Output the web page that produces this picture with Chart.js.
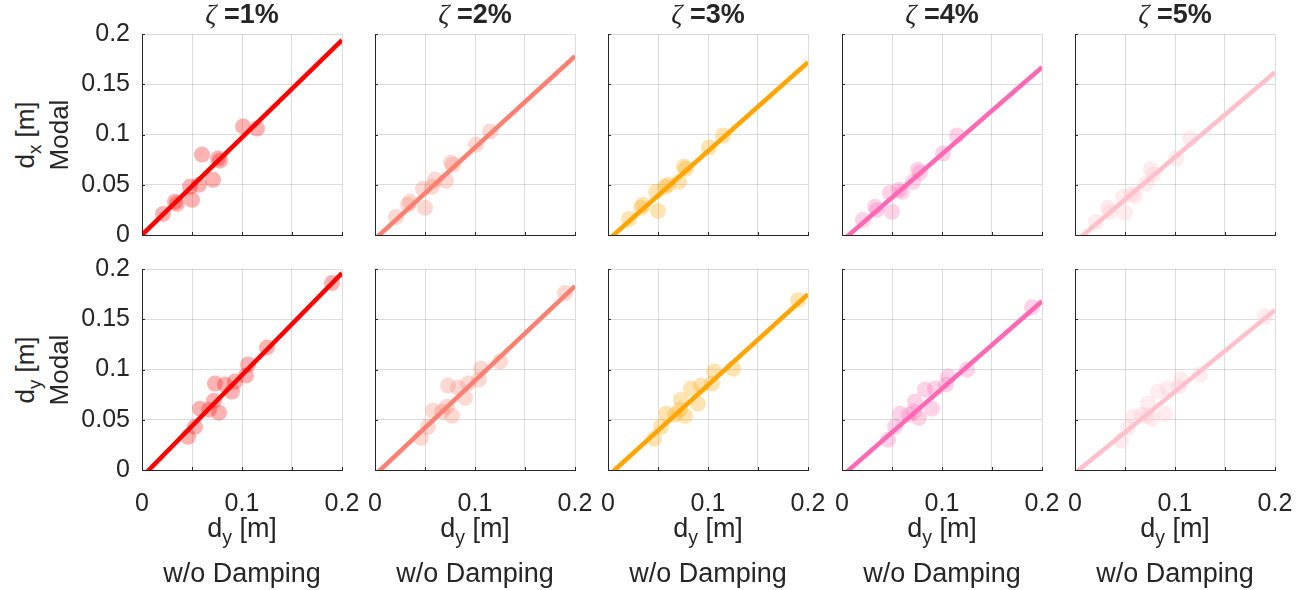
<!DOCTYPE html>
<html>
<head>
<meta charset="utf-8">
<script src="https://cdn.jsdelivr.net/npm/chart.js@4.4.1/dist/chart.umd.min.js"></script>
<style>
  html, body { margin:0; padding:0; background:#fff; }
  #wrap { position:relative; width:1305px; height:590px; overflow:hidden; font-family:"Liberation Sans", Arial, Helvetica, sans-serif; color:#262626; }
  .panel { position:absolute; }
  .title { position:absolute; font-weight:bold; font-size:27px; white-space:nowrap; z-index:5; transform:translateX(-50%); }
  .title i { font-weight:normal; font-family:"Liberation Serif", serif; font-size:1.02em; }
  .xlab, .ylab { position:absolute; font-size:27px; white-space:nowrap; transform:translate(-50%,-50%); z-index:5; }
  .ylab { font-size:26px; transform:translate(-50%,-50%) rotate(-90deg); }
  sub { font-size:0.72em; vertical-align:-0.4em; line-height:0; }
</style>
</head>
<body>
<div id="wrap"></div>
<script>
// ---------- data ----------
const dampingRatios = ['1%', '2%', '3%', '4%', '5%'];
const seriesColors = ['255,0,0', '250,128,114', '255,165,0', '255,105,180', '255,192,203'];
const tickValues = [0, 0.05, 0.1, 0.15, 0.2];

// row 1: d_x (modal) vs d_y w/o damping
const dxNoDamping = [0.021, 0.033, 0.035, 0.048, 0.050, 0.057, 0.060, 0.071, 0.076, 0.078, 0.101, 0.115];
const dxModal1 = [0.021, 0.033, 0.031, 0.048, 0.035, 0.050, 0.080, 0.055, 0.076, 0.074, 0.108, 0.106];
const dxModal2 = [0.018, 0.030, 0.033, 0.046, 0.027, 0.048, 0.055, 0.054, 0.072, 0.070, 0.090, 0.103];
const dxModal3 = [0.016, 0.027, 0.030, 0.043, 0.024, 0.048, 0.050, 0.053, 0.068, 0.066, 0.087, 0.099];
const dxModal4 = [0.015, 0.028, 0.025, 0.042, 0.023, 0.045, 0.043, 0.053, 0.065, 0.062, 0.081, 0.099];
const dxModal5 = [0.013, 0.027, 0.023, 0.038, 0.022, 0.041, 0.039, 0.051, 0.066, 0.060, 0.076, 0.096];
const dxFitAt0   = [0.000, -0.004, -0.005, -0.006, -0.007];
const dxFitAt020 = [0.194, 0.178, 0.172, 0.167, 0.162];

// row 2: d_y (modal) vs d_y w/o damping
const dyNoDamping = [0.046, 0.053, 0.058, 0.067, 0.072, 0.077, 0.073, 0.083, 0.090, 0.093, 0.104, 0.106, 0.125, 0.190];
const dyModal1 = [0.033, 0.043, 0.061, 0.060, 0.069, 0.057, 0.086, 0.085, 0.078, 0.088, 0.094, 0.105, 0.122, 0.186];
const dyModal2 = [0.032, 0.043, 0.059, 0.058, 0.063, 0.054, 0.084, 0.082, 0.072, 0.086, 0.090, 0.101, 0.108, 0.176];
const dyModal3 = [0.031, 0.043, 0.056, 0.055, 0.060, 0.054, 0.070, 0.081, 0.066, 0.084, 0.086, 0.098, 0.101, 0.169];
const dyModal4 = [0.030, 0.043, 0.056, 0.055, 0.058, 0.052, 0.068, 0.080, 0.061, 0.081, 0.085, 0.093, 0.100, 0.162];
const dyModal5 = [0.029, 0.042, 0.053, 0.055, 0.054, 0.051, 0.066, 0.078, 0.056, 0.081, 0.083, 0.090, 0.095, 0.153];
const dyFitAt0   = [-0.007, -0.005, -0.006, -0.006, -0.003];
const dyFitAt020 = [0.196, 0.183, 0.175, 0.168, 0.159];

const rowsX = [dxNoDamping, dyNoDamping];
const rowsY = [[dxModal1, dxModal2, dxModal3, dxModal4, dxModal5], [dyModal1, dyModal2, dyModal3, dyModal4, dyModal5]];
const rowsFit0 = [dxFitAt0, dyFitAt0];
const rowsFit1 = [dxFitAt020, dyFitAt020];
const rowLabelVar = ['x', 'y'];

// ---------- layout ----------
const plotLeft = [142, 375, 608, 842, 1075];
const plotTop = [34, 269];
const plotW = 200, plotH = 201;
const AX_W = 74, AX_H = 44, PAD_T = 16, PAD_R = 24;
const TXT = '#262626';
const FONT = '"Liberation Sans", Arial, Helvetica, sans-serif';

const inwardTicks = {
  id: 'inwardTicks',
  afterDraw(chart) {
    const { ctx, chartArea: a, scales: { x, y } } = chart;
    ctx.save();
    ctx.strokeStyle = TXT;
    ctx.lineWidth = 1;
    ctx.beginPath();
    tickValues.forEach(v => {
      const py = Math.round(y.getPixelForValue(v)) + 0.5;
      ctx.moveTo(a.left, py); ctx.lineTo(a.left + 3, py);
      const px = Math.round(x.getPixelForValue(v)) + 0.5;
      ctx.moveTo(px, a.bottom); ctx.lineTo(px, a.bottom - 3);
    });
    ctx.stroke();
    ctx.restore();
  }
};

const wrap = document.getElementById('wrap');

function fmt(v) { return String(Number(v.toFixed(2))); }

for (let r = 0; r < 2; r++) {
  for (let c = 0; c < 5; c++) {
    const div = document.createElement('div');
    div.className = 'panel';
    const W = AX_W + plotW + PAD_R, H = PAD_T + plotH + AX_H;
    div.style.left = (plotLeft[c] - AX_W) + 'px';
    div.style.top = (plotTop[r] - PAD_T) + 'px';
    div.style.width = W + 'px'; div.style.height = H + 'px';
    const cv = document.createElement('canvas');
    cv.width = W; cv.height = H;
    cv.style.width = W + 'px'; cv.style.height = H + 'px';
    div.appendChild(cv);
    wrap.appendChild(div);

    const xs = rowsX[r], ys = rowsY[r][c];
    const pts = xs.map((v, i) => ({ x: v, y: ys[i] }));
    const fit = [{ x: 0, y: rowsFit0[r][c] }, { x: 0.2, y: rowsFit1[r][c] }];
    const col = seriesColors[c];

    new Chart(cv, {
      type: 'scatter',
      data: {
        datasets: [
          { data: fit, showLine: true, borderColor: `rgb(${col})`, borderWidth: 4.5, pointRadius: 0, order: 0, clip: 0 },
          { data: pts, backgroundColor: `rgba(${col},0.3)`, borderWidth: 0, pointRadius: 8, pointHoverRadius: 8, order: 1, clip: false }
        ]
      },
      options: {
        responsive: false, animation: false, devicePixelRatio: 1,
        layout: { padding: { top: PAD_T, right: PAD_R, left: 0, bottom: 0 } },
        plugins: { legend: { display: false }, tooltip: { enabled: false } },
        events: [],
        scales: {
          x: {
            type: 'linear', min: 0, max: 0.2,
            grid: { color: 'rgba(38,38,38,0.16)', drawTicks: false, lineWidth: 1 },
            border: { color: TXT, width: 1 },
            ticks: {
              display: r === 1, stepSize: 0.05, autoSkip: false, maxRotation: 0, padding: 19,
              color: TXT, font: { family: FONT, size: 25 },
              callback: (v) => (Math.abs(v * 10 - Math.round(v * 10)) < 1e-6 ? fmt(v) : '')
            },
            afterFit(s) { s.height = AX_H; s.paddingLeft = 0; s.paddingRight = 0; }
          },
          y: {
            type: 'linear', min: 0, max: 0.2,
            grid: { color: 'rgba(38,38,38,0.16)', drawTicks: false, lineWidth: 1 },
            border: { color: TXT, width: 1 },
            ticks: {
              display: c === 0, stepSize: 0.05, autoSkip: false, padding: 12,
              color: TXT, font: { family: FONT, size: 25 },
              callback: (v) => fmt(v)
            },
            afterFit(s) { s.width = AX_W; s.paddingTop = 0; s.paddingBottom = 0; }
          }
        }
      },
      plugins: [inwardTicks]
    });

    if (r === 0) {
      const t = document.createElement('div');
      t.className = 'title';
      t.innerHTML = '<i>ζ</i> =' + dampingRatios[c];
      t.style.left = (plotLeft[c] + plotW / 2) + 'px';
      t.style.top = '-2px';
      wrap.appendChild(t);
    }
    if (r === 1) {
      const a = document.createElement('div');
      a.className = 'xlab';
      a.innerHTML = 'd<sub>y</sub> [m]';
      a.style.left = (plotLeft[c] + plotW / 2) + 'px';
      a.style.top = '528px';
      wrap.appendChild(a);
      const b = document.createElement('div');
      b.className = 'xlab';
      b.textContent = 'w/o Damping';
      b.style.left = (plotLeft[c] + plotW / 2) + 'px';
      b.style.top = '573px';
      wrap.appendChild(b);
    }
  }
  const l1 = document.createElement('div');
  l1.className = 'ylab';
  l1.innerHTML = 'd<sub>' + rowLabelVar[r] + '</sub> [m]';
  l1.style.left = '25px';
  l1.style.top = (plotTop[r] + plotH / 2) + 'px';
  wrap.appendChild(l1);
  const l2 = document.createElement('div');
  l2.className = 'ylab';
  l2.textContent = 'Modal';
  l2.style.left = '59px';
  l2.style.top = (plotTop[r] + plotH / 2) + 'px';
  wrap.appendChild(l2);
}
</script>
</body>
</html>
